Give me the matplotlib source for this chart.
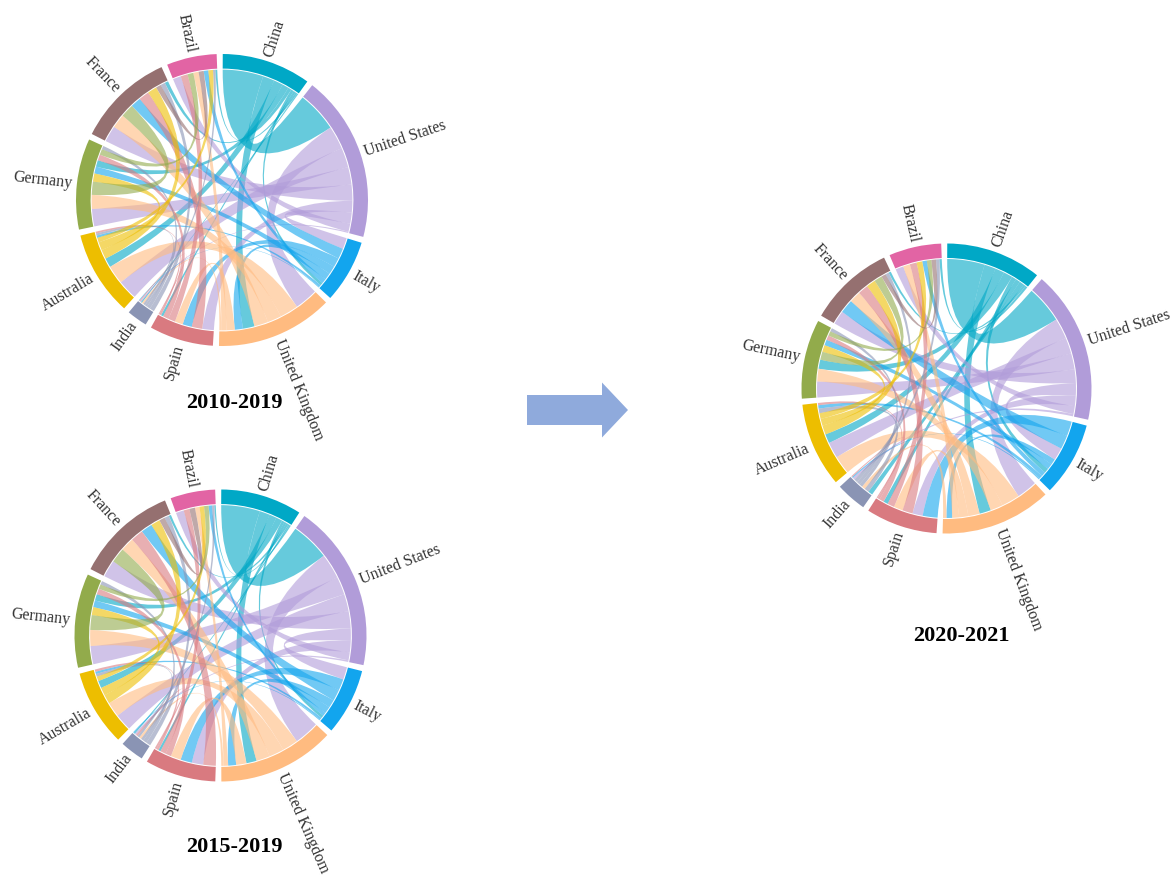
import numpy as np
import matplotlib
matplotlib.use("Agg")
import matplotlib.pyplot as plt
from matplotlib.patches import FancyArrow, PathPatch, Wedge
from matplotlib.path import Path

COUNTRIES = ["China", "United States", "Italy", "United Kingdom", "Spain",
             "India", "Australia", "Germany", "France", "Brazil"]

COLORS = ["#00A8C6", "#B19CD9", "#12A5EE", "#FFBB80", "#D97A80",
          "#8A94B4", "#EDBE00", "#92AB4B", "#957070", "#E264A4"]

# upper triangle of each link table, one row per country, read in degrees of ring
LINKS_2010_2019 = [
    [17.5, 1.2, 5.0, 1.0, 0.5, 4.0, 2.8, 1.5, 0.8],
    [4.8, 10.0, 5.0, 0.5, 8.5, 7.5, 7.0, 3.5],
    [3.5, 4.0, 0.3, 1.0, 3.0, 4.5, 2.0],
    [3.5, 0.8, 8.0, 6.0, 6.0, 2.3],
    [0.4, 0.8, 2.5, 4.5, 3.0],
    [0.9, 1.5, 2.0, 1.0],
    [3.5, 4.0, 2.0],
    [5.7, 2.5],
    [2.2],
]

LINKS_2015_2019 = [
    [17.0, 1.2, 4.5, 1.0, 0.6, 3.2, 2.8, 1.0, 0.6],
    [5.5, 11.0, 5.0, 0.7, 7.5, 8.0, 7.5, 3.5],
    [3.5, 5.0, 0.4, 1.0, 3.0, 5.0, 1.5],
    [4.5, 1.0, 6.5, 7.0, 6.0, 2.0],
    [0.8, 1.0, 2.5, 5.5, 2.5],
    [1.2, 1.6, 2.0, 1.0],
    [3.5, 4.0, 2.0],
    [6.5, 2.0],
    [2.5],
]

LINKS_2020_2021 = [
    [16.4, 2.0, 5.0, 2.0, 2.0, 4.0, 4.0, 1.0, 1.0],
    [5.5, 9.0, 4.5, 1.0, 7.0, 7.0, 6.0, 3.5],
    [2.5, 6.5, 0.5, 1.5, 2.5, 6.0, 2.0],
    [4.0, 1.5, 8.0, 5.5, 5.0, 3.0],
    [0.5, 1.0, 2.0, 4.5, 3.0],
    [2.0, 1.5, 1.5, 1.5],
    [3.0, 4.0, 2.5],
    [3.5, 2.0],
    [2.0],
]

# title, links, centre x, centre y, ring radius, title x, title y
DIAGRAMS = [
    ("2010-2019", LINKS_2010_2019, 222, 200, 146, 234, 403),
    ("2015-2019", LINKS_2015_2019, 220.5, 635.5, 146, 234, 847),
    ("2020-2021", LINKS_2020_2021, 946.5, 388.5, 145, 961, 636),
]

PAD = 2.4


def full_matrix(rows):
    n = len(rows) + 1
    m = np.zeros((n, n))
    for i, row in enumerate(rows):
        m[i, i + 1:] = row
    return m + m.T


def polar(cx, cy, r, deg):
    a = np.radians(deg)
    return cx + r * np.sin(a), cy - r * np.cos(a)


def draw_chord(ax, cx, cy, r, src, dst, color):
    verts = []
    codes = []
    for k, (a0, a1) in enumerate([src, dst]):
        pts = [polar(cx, cy, r, a) for a in np.linspace(a0, a1, 20)]
        if k == 0:
            verts.append(pts[0])
            codes.append(Path.MOVETO)
        else:
            verts += [(cx, cy), pts[0]]
            codes += [Path.CURVE3, Path.CURVE3]
        verts += pts[1:]
        codes += [Path.LINETO] * (len(pts) - 1)
    verts += [(cx, cy), verts[0], verts[0]]
    codes += [Path.CURVE3, Path.CURVE3, Path.CLOSEPOLY]
    ax.add_patch(PathPatch(Path(verts, codes), facecolor=color, edgecolor="none", alpha=0.6))


def draw_diagram(ax, rows, cx, cy, radius):
    m = full_matrix(rows)
    n = len(m)
    scale = (360 - PAD * n) / m.sum()
    spans = {}
    start = 0.3
    for i in range(n):
        a = start
        # biggest link first inside every group
        for j in sorted(np.nonzero(m[i])[0], key=lambda j: -m[i, j]):
            spans[i, j] = (a, a + m[i, j] * scale)
            a += m[i, j] * scale

        # y axis points down, so wedge angles run clockwise from 3 o'clock
        ax.add_patch(Wedge((cx, cy), radius, start - 90, a - 90, width=radius * 0.1,
                           facecolor=COLORS[i], edgecolor="none"))

        mid = (start + a) / 2
        x, y = polar(cx, cy, radius + 5, mid)
        if mid < 180:
            ax.text(x, y, COUNTRIES[i], rotation=90 - mid, rotation_mode="anchor",
                    ha="left", va="center", fontsize=11.5, color="#333333")
        else:
            ax.text(x, y, COUNTRIES[i], rotation=270 - mid, rotation_mode="anchor",
                    ha="right", va="center", fontsize=11.5, color="#333333")
        start = a + PAD

    for i in range(n):
        for j in range(i + 1, n):
            if m[i, j] > 0:
                draw_chord(ax, cx, cy, radius * 0.893, spans[i, j], spans[j, i], COLORS[i])


plt.rcParams["font.family"] = ["Liberation Serif", "DejaVu Serif"]

fig = plt.figure(figsize=(11.73, 8.77), dpi=100)
ax = fig.add_axes([0, 0, 1, 1])
ax.set_xlim(0, 1173)
ax.set_ylim(877, 0)
ax.axis("off")

for title, rows, cx, cy, radius, tx, ty in DIAGRAMS:
    draw_diagram(ax, rows, cx, cy, radius)
    ax.text(tx, ty, title, ha="center", va="center", fontsize=16, fontweight="bold", color="black")

ax.add_patch(FancyArrow(527, 410, 101, 0, width=30, head_width=55, head_length=26,
                        length_includes_head=True, facecolor="#8FAADC", edgecolor="none"))

fig.savefig("out.png", dpi=100)
